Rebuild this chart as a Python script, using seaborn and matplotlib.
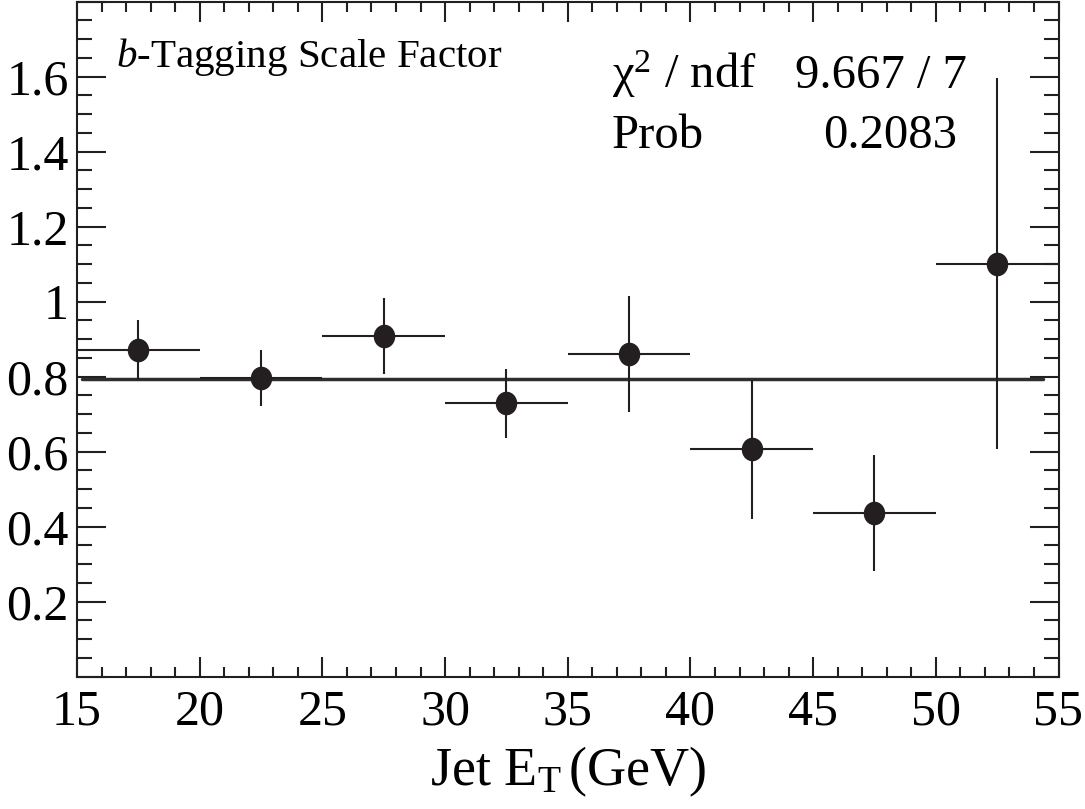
import numpy as np
import pandas as pd
import matplotlib
matplotlib.use("Agg")
import matplotlib.pyplot as plt
from matplotlib.path import Path
from matplotlib.ticker import MultipleLocator, FuncFormatter
import seaborn as sns

# Scale factor measurements per jet-ET bin
et_center = [17.5, 22.5, 27.5, 32.5, 37.5, 42.5, 47.5, 52.5]
et_halfwidth = [2.5, 2.5, 2.5, 2.5, 2.5, 2.5, 2.5, 2.5]
scale_factor = [0.871, 0.797, 0.909, 0.729, 0.860, 0.606, 0.436, 1.101]
sf_error = [0.080, 0.075, 0.101, 0.092, 0.154, 0.186, 0.154, 0.495]

# Constant fit result
fit_value = 0.794
fit_range = [15.2, 54.35]
chi2_label = "9.667 / 7"
prob_label = "0.2083"

sns.set_theme(style="ticks")
plt.rcParams["font.family"] = ["Liberation Serif", "DejaVu Serif"]
plt.rcParams["mathtext.fontset"] = "custom"
plt.rcParams["mathtext.rm"] = "Liberation Serif"
plt.rcParams["mathtext.it"] = "Liberation Serif:italic"
plt.rcParams["mathtext.bf"] = "Liberation Serif:bold"

ink = "#231f20"
W, H = 1085, 809
fig = plt.figure(figsize=(W / 100, H / 100), dpi=100)
ax = fig.add_axes([77 / W, 1 - 676.7 / H, (1058.5 - 77) / W, (676.7 - 1.5) / H])

df = pd.DataFrame({"et": et_center, "sf": scale_factor,
                   "xerr": et_halfwidth, "yerr": sf_error})

# fit line
fit_df = pd.DataFrame({"et": fit_range, "sf": [fit_value, fit_value]})
sns.lineplot(data=fit_df, x="et", y="sf", ax=ax, color="#2e2e2e",
             linewidth=2.5, zorder=2)

# error bars
ax.errorbar(df["et"], df["sf"], xerr=df["xerr"], yerr=df["yerr"],
            fmt="none", ecolor=ink, elinewidth=1.5, capsize=0, zorder=3)

# markers: slightly tall filled ellipse
circ = Path.unit_circle()
ellipse = Path(circ.vertices * np.array([0.91, 1.0]), circ.codes)
sns.scatterplot(data=df, x="et", y="sf", ax=ax, marker=ellipse, s=17.0 ** 2,
                color=ink, edgecolor=ink, linewidth=0, zorder=4)

ax.set_xlim(15, 55)
ax.set_ylim(0, 1.8)

ax.xaxis.set_major_locator(MultipleLocator(5))
ax.xaxis.set_minor_locator(MultipleLocator(1))
ax.yaxis.set_major_locator(MultipleLocator(0.2))
ax.yaxis.set_minor_locator(MultipleLocator(0.05))


def ylab(v, pos):
    if v < 0.1 or v > 1.7:
        return ""
    s = f"{v:.1f}"
    return "1" if s == "1.0" else s


ax.yaxis.set_major_formatter(FuncFormatter(ylab))
ax.xaxis.set_major_formatter(FuncFormatter(lambda v, p: f"{v:.0f}"))

for side in ["left", "right", "top", "bottom"]:
    ax.spines[side].set_visible(True)
    ax.spines[side].set_color(ink)
    ax.spines[side].set_linewidth(1.5)

ax.tick_params(axis="both", which="both", direction="in", colors=ink,
               top=True, right=True, width=1.5)
ax.tick_params(axis="x", which="major", length=14.5, labelsize=36, pad=9)
ax.tick_params(axis="x", which="minor", length=7.2)
ax.tick_params(axis="y", which="major", length=21, labelsize=36, pad=6)
ax.tick_params(axis="y", which="minor", length=10.8)
for lab in ax.get_xticklabels() + ax.get_yticklabels():
    lab.set_color("black")

ax.set_xlabel(r"Jet E$_{\mathrm{T}}\,$(GeV)", fontsize=39, color="black",
              labelpad=6)
ax.set_ylabel("")
ax.grid(False)


def ftext(x, y, s, **kw):
    fig.text(x / W, 1 - y / H, s, va="baseline", color="black", **kw)


ftext(116, 67, r"$\it{b}$-Tagging Scale Factor", fontsize=29.5)
ftext(612, 88, r"$\mathrm{\chi}^{2}$ / ndf", fontsize=35)
ftext(967, 88, chi2_label, fontsize=35, ha="right")
ftext(612, 148, "Prob", fontsize=35)
ftext(957, 148, prob_label, fontsize=35, ha="right")

fig.savefig("out.png", dpi=100, facecolor="white")
